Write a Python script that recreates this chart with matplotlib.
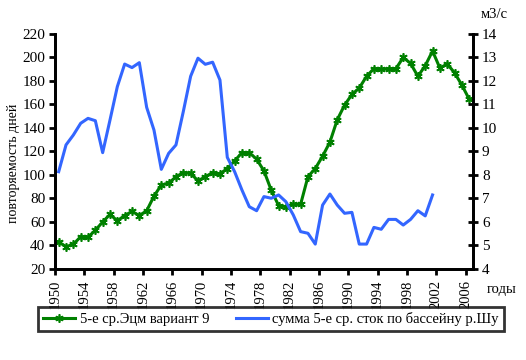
import numpy as np
import matplotlib.pyplot as plt

# ---------- Data ----------
green_years = np.arange(1950, 2007)
green_days = [43, 39, 41, 47.5, 47, 53, 60, 66.5, 61, 65.5,
              69, 65.5, 69.5, 82, 91.5, 93, 98.5, 102, 101.5, 95,
              98.5, 102, 101, 105.5, 112, 119, 119, 113.5, 103.5, 87,
              74, 73, 75, 75, 98.5, 105.5, 116, 128, 147, 159.5,
              168.5, 174, 184, 190.5, 190, 190.5, 190.5, 200, 195, 184,
              193, 205.5, 191, 194.5, 187, 176.5, 164.5]

blue_years = np.arange(1950, 2002)
blue_flow = [8.14, 9.28, 9.70, 10.2, 10.41, 10.31, 8.95, 10.34, 11.76, 12.72,
             12.57, 12.78, 10.88, 9.91, 8.24, 8.92, 9.28, 10.7, 12.2, 12.97,
             12.71, 12.8, 12.04, 8.75, 8.14, 7.36, 6.65, 6.48, 7.08, 7.01,
             7.15, 6.86, 6.3, 5.59, 5.52, 5.06, 6.72, 7.19, 6.72, 6.37,
             6.41, 5.06, 5.06, 5.77, 5.69, 6.11, 6.11, 5.87, 6.11, 6.48,
             6.26, 7.15]

tick_years = np.arange(1950, 2007, 4)

green_label = "5-е ср.Эцм вариант 9"
blue_label = "сумма 5-е ср. сток по бассейну р.Шу"

# ---------- Plot ----------
plt.rcParams['font.family'] = ['Liberation Serif', 'DejaVu Serif']
plt.rcParams['font.size'] = 10.5

fig = plt.figure(figsize=(5.26, 3.60), dpi=100)
ax = fig.add_axes([0.1046, 0.2528, 0.7944, 0.6528])
ax2 = ax.twinx()

# points sit in the middle of each year category
g_line, = ax.plot(green_years + 0.5, green_days, color='#008000', lw=2.2,
                  marker=(6, 2, 0), markersize=6, markeredgewidth=1.2,
                  zorder=3)
b_line, = ax2.plot(blue_years + 0.5, blue_flow, color='#3366FF', lw=2.2,
                   zorder=2)

ax.set_xlim(1950, 2007)
ax.set_ylim(20, 220)
ax.set_yticks(np.arange(20, 221, 20))
ax2.set_ylim(4, 14)
ax2.set_yticks(np.arange(4, 15, 1))
ax.set_xticks(tick_years)
ax.set_xticklabels([str(y) for y in tick_years], rotation=90)

for a in (ax, ax2):
    a.spines['top'].set_visible(False)
    for s in ('left', 'right', 'bottom'):
        a.spines[s].set_linewidth(2)
ax.tick_params(axis='y', direction='out', length=4, width=2, pad=3,
               labelsize=11)
ax.tick_params(axis='x', direction='out', length=4, width=2, pad=4)
ax2.tick_params(axis='y', direction='inout', length=7, width=2, pad=3,
                labelsize=11)

fig.text(0.025, 1 - 163 / 360, "повторяемость дней", rotation=90,
         ha='center', va='center', fontsize=10)
fig.text(0.94, 1 - 15 / 360, "м3/с", ha='center', va='center')
fig.text(0.953, 1 - 290 / 360, "годы", ha='center', va='center')

leg = fig.legend([g_line, b_line], [green_label, blue_label], ncol=2,
                 loc='center', bbox_to_anchor=(0.515, 1 - 319 / 360),
                 frameon=True, fancybox=False, edgecolor='black',
                 handlelength=2.2, handletextpad=0.3, columnspacing=1.8,
                 borderpad=0.35)
leg.get_frame().set_linewidth(2)

fig.savefig("out.png", dpi=100)
